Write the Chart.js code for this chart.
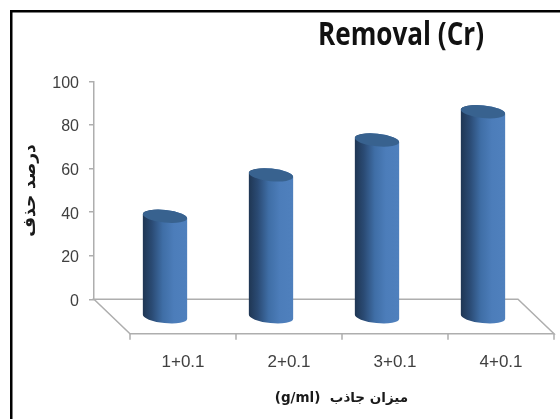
<!DOCTYPE html>
<html>
<head>
<meta charset="utf-8">
<title>Removal (Cr)</title>
<script src="https://cdn.jsdelivr.net/npm/chart.js@4/dist/chart.umd.min.js"></script>
<style>
    html, body { margin: 0; padding: 0; background: #ffffff; }
    canvas { display: block; }
</style>
</head>
<body>
<canvas id="removalChart" width="560" height="419"></canvas>
<script>
var categories = ['1+0.1', '2+0.1', '3+0.1', '4+0.1'];
var removalValues = [46.5, 65.5, 81.5, 94.5];
var chartTitle = 'Removal (Cr)';
var yAxisTitle = 'درصد حذف';
var xAxisTitle = '(g/ml)  میزان جاذب';

// Depth of the 3D floor in pixels
var depthX = 36;
var depthY = 34.5;
var axisGrey = '#aeaeae';

// Draws the frame, titles and the 3D floor
var floorPlugin = {
    id: 'floorPlugin',
    beforeDatasetsDraw: function (chart) {
        var ctx = chart.ctx;
        var area = chart.chartArea;
        var xScale = chart.scales.x;
        var left = area.left, right = area.right, bottom = area.bottom;

        ctx.save();
        ctx.fillStyle = '#000000';
        ctx.fillRect(10, 10, 550, 2.5);
        ctx.fillRect(10, 10, 2.5, 409);

        ctx.strokeStyle = axisGrey;
        ctx.lineWidth = 1.5;
        ctx.beginPath();
        ctx.moveTo(left, bottom);
        ctx.lineTo(right, bottom);
        ctx.lineTo(right + depthX, bottom + depthY);
        ctx.lineTo(left + depthX, bottom + depthY);
        ctx.closePath();
        ctx.stroke();

        // tick marks along the front edge of the floor
        var step = xScale.width / categories.length;
        ctx.beginPath();
        for (var i = 0; i <= categories.length; i++) {
            ctx.moveTo(left + depthX + step * i, bottom + depthY);
            ctx.lineTo(left + depthX + step * i, bottom + depthY + 6);
        }
        ctx.stroke();

        ctx.fillStyle = '#111111';
        ctx.textAlign = 'center';
        ctx.textBaseline = 'middle';
        // squeezed to the width of the original narrow title
        ctx.font = 'bold 33px "Open Sans"';
        ctx.fillText(chartTitle, 401, 36, 166);
        ctx.fillStyle = '#1a1a1a';
        ctx.font = 'bold 13.5px "DejaVu Sans"';
        ctx.fillText(xAxisTitle, 341.5, 398);
        ctx.restore();
    }
};

// Draws each bar element as a cylinder standing in the middle of the floor
var cylinderPlugin = {
    id: 'cylinderPlugin',
    afterDatasetsDraw: function (chart) {
        var ctx = chart.ctx;
        var bars = chart.getDatasetMeta(0).data;
        var tilt = 0.1;

        bars.forEach(function (bar) {
            var cx = bar.x + depthX / 2;
            var topY = bar.y + depthY / 2 + 1;
            var baseY = bar.base + depthY / 2 + 1;
            var rx = bar.width / 2;
            var ry = 6.3;

            var body = ctx.createLinearGradient(cx - rx, 0, cx + rx, 0);
            body.addColorStop(0, '#1f3653');
            body.addColorStop(0.2, '#2a4a73');
            body.addColorStop(0.45, '#3f6ea6');
            body.addColorStop(0.7, '#4c7dba');
            body.addColorStop(1, '#4f80bd');

            ctx.save();
            ctx.fillStyle = body;
            ctx.beginPath();
            ctx.ellipse(cx, baseY, rx, ry, tilt, Math.PI, 0, true);
            ctx.ellipse(cx, topY, rx, ry, tilt, 0, Math.PI, true);
            ctx.closePath();
            ctx.fill();

            ctx.fillStyle = '#38628f';
            ctx.beginPath();
            ctx.ellipse(cx, topY, rx, ry, tilt, 0, Math.PI * 2);
            ctx.fill();
            ctx.restore();
        });
    }
};

var removalChart = new Chart(document.getElementById('removalChart'), {
    type: 'bar',
    data: {
        labels: categories,
        datasets: [{
            data: removalValues,
            backgroundColor: 'rgba(0,0,0,0)',
            borderWidth: 0,
            categoryPercentage: 1,
            barPercentage: 0.42
        }]
    },
    options: {
        responsive: false,
        animation: false,
        layout: {
            padding: { left: 0, right: 42, top: 81.5, bottom: 0 }
        },
        plugins: {
            legend: { display: false },
            tooltip: { enabled: false }
        },
        scales: {
            x: {
                grid: { display: false },
                border: { display: false },
                afterFit: function (scale) {
                    scale.height = 119.7;
                },
                ticks: {
                    maxRotation: 0,
                    labelOffset: depthX,
                    padding: 44.5,
                    color: '#404040',
                    font: { family: '"Liberation Sans"', size: 17 }
                }
            },
            y: {
                min: 0,
                max: 100,
                afterFit: function (scale) {
                    scale.width = 94;
                },
                border: { color: axisGrey, width: 1.5 },
                grid: {
                    drawOnChartArea: false,
                    color: axisGrey,
                    lineWidth: 1.5,
                    tickLength: 5
                },
                ticks: {
                    stepSize: 20,
                    padding: 10,
                    labelOffset: 2,
                    color: '#404040',
                    font: { family: '"Liberation Sans"', size: 16 }
                },
                title: {
                    display: true,
                    text: yAxisTitle,
                    color: '#1a1a1a',
                    padding: { top: 20, bottom: 0 },
                    font: { family: '"DejaVu Sans"', size: 17, weight: 'bold' }
                }
            }
        }
    },
    plugins: [floorPlugin, cylinderPlugin]
});
</script>
</body>
</html>
